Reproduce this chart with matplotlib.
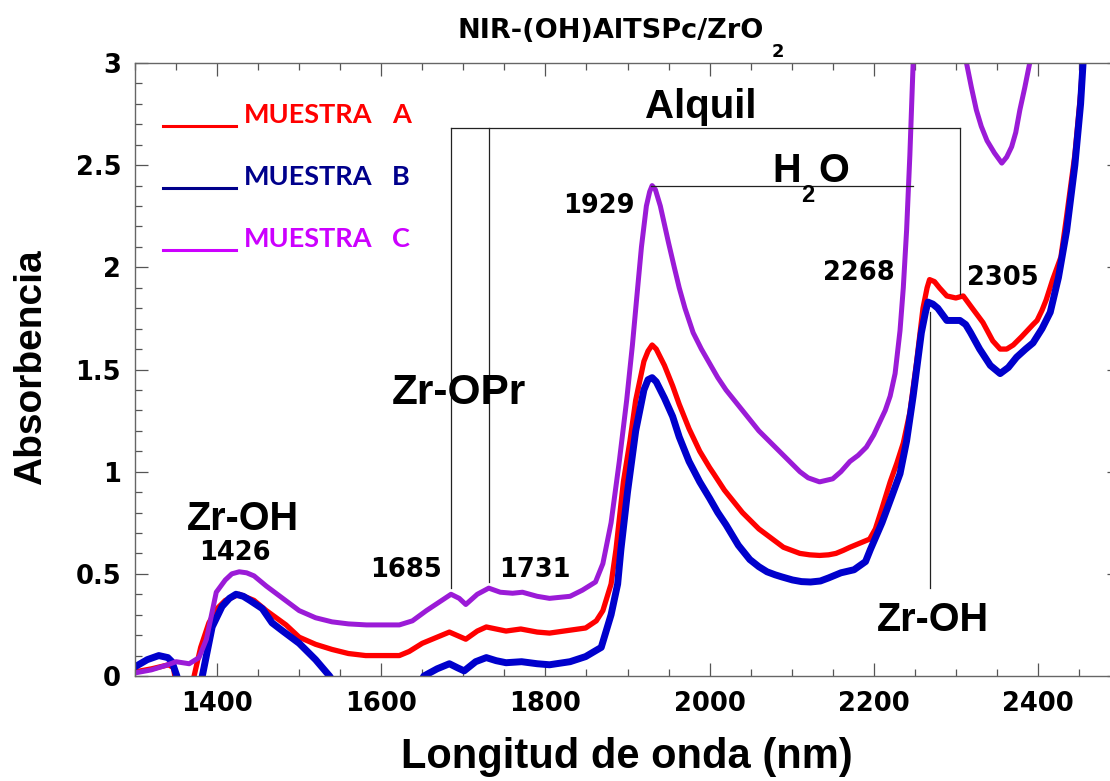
import matplotlib.pyplot as plt
from matplotlib.ticker import MultipleLocator

# espectros NIR (longitud de onda en nm, absorbencia)
wl_a = [1300, 1320, 1341, 1347, 1352, 1365, 1372, 1380, 1390, 1400, 1410, 1427, 1445,
        1460, 1484, 1500, 1520, 1540, 1560, 1581, 1622, 1634, 1650, 1662, 1683, 1703,
        1717, 1728, 1752, 1770, 1790, 1805, 1849, 1862, 1870, 1880, 1886, 1895, 1903,
        1910, 1920, 1925, 1930, 1935, 1945, 1955, 1963, 1975, 1988, 2000, 2005, 2018,
        2030, 2040, 2050, 2060, 2070, 2080, 2090, 2100, 2110, 2122, 2134, 2145, 2154,
        2163, 2171, 2183, 2195, 2202, 2210, 2220, 2228, 2236, 2244, 2252, 2260, 2265,
        2268, 2274, 2280, 2289, 2300, 2309, 2320, 2333, 2345, 2354, 2362, 2370, 2380,
        2387, 2394, 2399, 2405, 2410, 2418, 2428, 2435, 2445, 2452, 2458]
abs_a = [0.02, 0.035, 0.055, 0.04, -0.1, -0.1, 0.0, 0.14, 0.26, 0.33, 0.37, 0.40, 0.37,
         0.32, 0.25, 0.19, 0.155, 0.13, 0.11, 0.10, 0.10, 0.12, 0.16, 0.18, 0.215, 0.18,
         0.22, 0.24, 0.22, 0.23, 0.215, 0.21, 0.235, 0.27, 0.32, 0.45, 0.62, 0.95, 1.15,
         1.35, 1.54, 1.59, 1.62, 1.60, 1.52, 1.42, 1.33, 1.21, 1.10, 1.02, 0.99, 0.91,
         0.85, 0.80, 0.76, 0.72, 0.69, 0.66, 0.63, 0.615, 0.60, 0.593, 0.59, 0.593, 0.60,
         0.615, 0.63, 0.65, 0.67, 0.72, 0.82, 0.95, 1.04, 1.14, 1.29, 1.53, 1.80, 1.90,
         1.94, 1.93, 1.90, 1.86, 1.85, 1.86, 1.80, 1.73, 1.64, 1.60, 1.60, 1.62, 1.66,
         1.69, 1.72, 1.74, 1.79, 1.84, 1.94, 2.05, 2.25, 2.55, 2.85, 3.2]

wl_b = [1300, 1315, 1329, 1340, 1345, 1351, 1356, 1378, 1382, 1394, 1406, 1415, 1423,
        1432, 1440, 1455, 1467, 1480, 1500, 1520, 1537, 1545, 1600, 1645, 1652, 1668,
        1683, 1693, 1701, 1715, 1728, 1740, 1752, 1771, 1790, 1805, 1830, 1849, 1868,
        1880, 1888, 1892, 1900, 1910, 1920, 1925, 1930, 1935, 1945, 1955, 1963, 1975,
        1988, 2000, 2010, 2020, 2035, 2049, 2060, 2070, 2080, 2088, 2101, 2112, 2123,
        2135, 2145, 2160, 2176, 2190, 2196, 2210, 2222, 2232, 2240, 2248, 2258, 2263,
        2266, 2272, 2278, 2289, 2305, 2312, 2318, 2329, 2342, 2354, 2364, 2374, 2385,
        2394, 2405, 2415, 2425, 2435, 2445, 2452, 2458]
abs_b = [0.045, 0.08, 0.10, 0.09, 0.07, 0.0, -0.1, -0.1, 0.0, 0.24, 0.34, 0.38, 0.40,
         0.39, 0.37, 0.33, 0.26, 0.22, 0.16, 0.08, 0.0, -0.05, -0.2, -0.05, 0.0, 0.035,
         0.06, 0.04, 0.025, 0.07, 0.09, 0.075, 0.065, 0.07, 0.06, 0.055, 0.07, 0.095, 0.14,
         0.30, 0.45, 0.62, 0.90, 1.20, 1.40, 1.45, 1.46, 1.44, 1.36, 1.27, 1.17, 1.05,
         0.95, 0.87, 0.80, 0.74, 0.64, 0.57, 0.535, 0.51, 0.495, 0.485, 0.47, 0.462, 0.46,
         0.465, 0.48, 0.505, 0.52, 0.56, 0.62, 0.75, 0.88, 0.99, 1.15, 1.37, 1.68, 1.78,
         1.83, 1.82, 1.80, 1.74, 1.74, 1.72, 1.68, 1.60, 1.52, 1.48, 1.51, 1.56, 1.60,
         1.63, 1.70, 1.78, 1.95, 2.18, 2.5, 2.8, 3.2]

wl_c = [1300, 1320, 1340, 1350, 1366, 1378, 1387, 1399, 1410, 1418, 1427, 1436, 1445,
        1460, 1480, 1500, 1520, 1540, 1560, 1582, 1622, 1638, 1655, 1670, 1685, 1695,
        1703, 1717, 1731, 1745, 1760, 1772, 1790, 1805, 1830, 1845, 1861, 1870, 1880,
        1890, 1899, 1906, 1911, 1917, 1923, 1927, 1930, 1934, 1940, 1950, 1957, 1963,
        1970, 1980, 1990, 2000, 2010, 2020, 2030, 2040, 2050, 2060, 2070, 2080, 2090,
        2100, 2110, 2120, 2134, 2150, 2160, 2171, 2181, 2191, 2200, 2207, 2214, 2220,
        2226, 2232, 2236, 2240, 2244, 2248, 2252, 2310, 2313, 2319, 2325, 2331, 2338,
        2347, 2356, 2362, 2368, 2373, 2378, 2384, 2390, 2395]
abs_c = [0.015, 0.03, 0.055, 0.07, 0.06, 0.09, 0.18, 0.41, 0.47, 0.50, 0.51, 0.505, 0.49,
         0.44, 0.38, 0.32, 0.285, 0.265, 0.255, 0.25, 0.25, 0.27, 0.32, 0.36, 0.40, 0.38,
         0.35, 0.40, 0.43, 0.41, 0.405, 0.41, 0.39, 0.38, 0.39, 0.42, 0.46, 0.55, 0.75,
         1.05, 1.35, 1.62, 1.84, 2.10, 2.30, 2.37, 2.40, 2.38, 2.30, 2.12, 2.00, 1.90,
         1.80, 1.68, 1.60, 1.53, 1.46, 1.40, 1.35, 1.30, 1.25, 1.20, 1.16, 1.12, 1.08,
         1.04, 1.00, 0.97, 0.95, 0.965, 1.00, 1.05, 1.08, 1.12, 1.18, 1.24, 1.30, 1.37,
         1.48, 1.69, 1.90, 2.18, 2.55, 3.0, 3.5, 3.5, 3.0, 2.88, 2.77, 2.69, 2.62,
         2.56, 2.51, 2.54, 2.59, 2.66, 2.77, 2.88, 3.0, 3.5]

muestras = ['A', 'B', 'C']
colores = ['#FF0000', '#0000CC', '#9B1BD7']
colores_leyenda = ['#FF0000', '#00008B', '#CC00FF']
grosores = [3.8, 5.0, 3.6]

x_ticks = [1400, 1600, 1800, 2000, 2200, 2400]
y_ticks = [0, 0.5, 1, 1.5, 2, 2.5, 3]
y_labels = ['0', '0.5', '1', '1.5', '2', '2.5', '3']

fig = plt.figure(figsize=(11.1, 7.81), dpi=100)
ax = fig.add_axes([135 / 1110, 105 / 781, 985 / 1110, 613 / 781])

for wl, ab, c, lw in zip([wl_a, wl_b, wl_c], [abs_a, abs_b, abs_c], colores, grosores):
    ax.plot(wl, ab, color=c, lw=lw, solid_joinstyle='round')

ax.set_xlim(1300, 2500)
ax.set_ylim(0, 3)
ax.set_xticks(x_ticks)
ax.set_yticks(y_ticks)
ax.set_yticklabels(y_labels)
ax.xaxis.set_minor_locator(MultipleLocator(50))
ax.yaxis.set_minor_locator(MultipleLocator(0.1))
ax.tick_params(which='both', direction='in', top=True, right=True, color='#555555', width=0.9)
ax.tick_params(which='major', length=9.5)
ax.tick_params(which='minor', length=5)
ax.tick_params(axis='x', pad=11)
ax.tick_params(axis='y', pad=10)
for lab in ax.get_xticklabels() + ax.get_yticklabels():
    lab.set_fontfamily('DejaVu Sans')
    lab.set_fontweight('bold')
    lab.set_fontsize(18.5)
for sp in ax.spines.values():
    sp.set_color('#666666')
    sp.set_linewidth(1.0)

# lineas de asignacion
k = dict(color='#222222', lw=0.9)
ax.plot([1685, 1685], [0.43, 2.68], **k)
ax.plot([1731, 1731], [0.46, 2.68], **k)
ax.plot([1685, 2305], [2.68, 2.68], **k)
ax.plot([2305, 2305], [2.68, 1.87], **k)
ax.plot([1929, 2248], [2.40, 2.40], **k)
ax.plot([2268, 2268], [1.78, 0.43], **k)

num = dict(family='DejaVu Sans', weight='bold', fontsize=18.5, ha='center', va='center')
ax.text(1422, 0.60, '1426', **num)
ax.text(1630, 0.52, '1685', **num)
ax.text(1787, 0.52, '1731', **num)
ax.text(1865, 2.30, '1929', **num)
ax.text(2182, 1.97, '2268', **num)
ax.text(2357, 1.95, '2305', **num)

pal = dict(family='Liberation Sans', weight='bold', ha='center', va='center')
ax.text(1432, 0.77, 'Zr-OH', fontsize=28.5, **pal)
ax.text(1695, 1.385, 'Zr-OPr', fontsize=30.5, **pal)
ax.text(2272, 0.274, 'Zr-OH', fontsize=28.5, **pal)
ax.text(1989, 2.731, 'Alquil', fontsize=29, family='Liberation Sans', weight='bold',
        ha='center', va='baseline')
ax.text(2077, 2.418, 'H', fontsize=28.5, family='Liberation Sans', weight='bold', va='baseline')
ax.text(2112, 2.32, '2', fontsize=17, family='Liberation Sans', weight='bold', va='baseline')
ax.text(2132, 2.418, 'O', fontsize=28.5, family='Liberation Sans', weight='bold', va='baseline')

# leyenda manual
for i, (m, c) in enumerate(zip(muestras, colores_leyenda)):
    yl = 0.897 - i * 0.101
    ax.plot([0.0284, 0.1025], [yl, yl], color=c, lw=2.2, transform=ax.transAxes)
    ax.text(0.1107, yl + 0.005, 'MUESTRA', color=c, family='Lato', weight='bold',
            fontsize=19.5, transform=ax.transAxes, va='baseline')
    ax.text(0.261, yl + 0.005, m, color=c, family='Lato', weight='bold',
            fontsize=19.5, transform=ax.transAxes, va='baseline')

fig.text(611 / 1110, 1 - 38 / 781, 'NIR-(OH)AlTSPc/ZrO', family='DejaVu Sans',
         weight='bold', fontsize=19.5, ha='center', va='baseline')
fig.text(772 / 1110, 1 - 57 / 781, '2', family='DejaVu Sans', weight='bold',
         fontsize=13, va='baseline')
fig.text(31 / 1110, 1 - 367 / 781, 'Absorbencia', family='Liberation Sans', weight='bold',
         fontsize=28, rotation=90, ha='center', va='center')
fig.text(627 / 1110, 13 / 781, 'Longitud de onda (nm)', family='Liberation Sans',
         weight='bold', fontsize=30, ha='center', va='baseline')

fig.savefig('out.png', dpi=100)
